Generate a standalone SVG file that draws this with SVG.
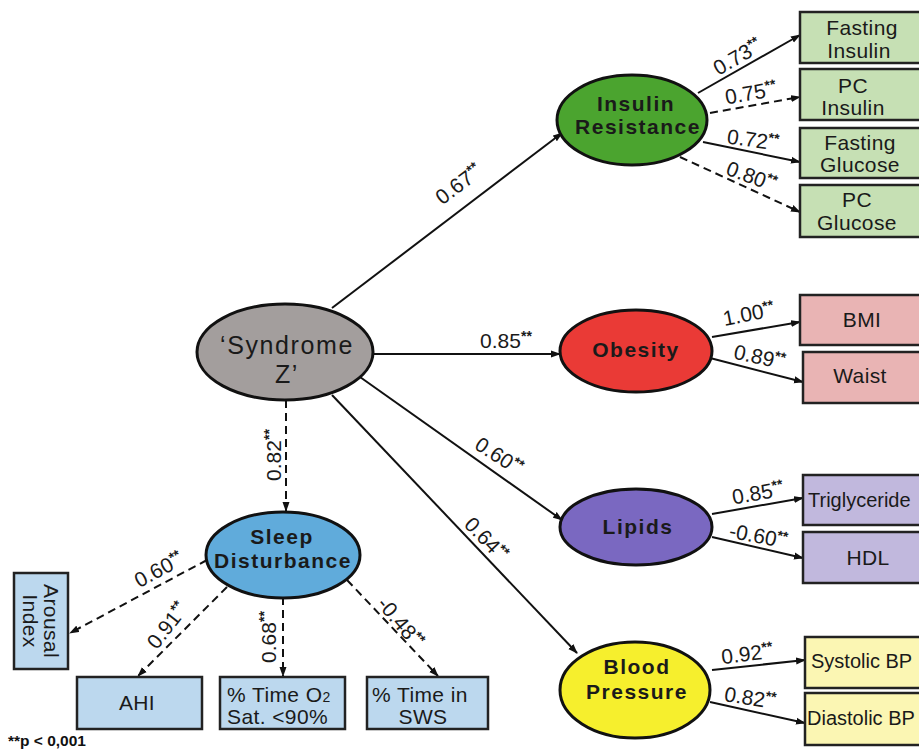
<svg xmlns="http://www.w3.org/2000/svg" width="919" height="749" viewBox="0 0 919 749">
  <defs>
    <marker id="arrow" markerWidth="10" markerHeight="8" refX="9" refY="4" orient="auto" markerUnits="userSpaceOnUse">
      <path d="M0,0.5 L10,4 L0,7.5 Z" fill="#111"/>
    </marker>
    <style>
      .edge { stroke: #111; stroke-width: 2; fill: none; marker-end: url(#arrow); }
      .dash { stroke-dasharray: 8 5; }
      .latent { stroke: #111; stroke-width: 3; }
      .box { stroke: #222; stroke-width: 2.5; }
      text { font-family: "Liberation Sans", Arial, sans-serif; fill: #1a1a1a; }
      .lt { font-weight: bold; font-size: 21px; letter-spacing: 1.5px; text-anchor: middle; }
      .sz { font-size: 25px; letter-spacing: 1.6px; text-anchor: middle; }
      .bt { font-size: 21px; letter-spacing: 0.4px; }
      .tight { font-size: 20px; letter-spacing: 0; }
      .mid { text-anchor: middle; }
      .start { text-anchor: start; }
      .lab { font-size: 21px; text-anchor: middle; }
      .sup { font-size: 14px; font-weight: bold; }
      .note { font-weight: bold; font-size: 15.5px; fill: #111; }
    </style>
  </defs>
  <rect width="919" height="749" fill="#ffffff"/>

  <!-- connectors -->
  <g id="connectors">
    <line class="edge" x1="332" y1="308" x2="562" y2="133"/>
    <line class="edge" x1="373" y1="354" x2="560" y2="354"/>
    <line class="edge" x1="360" y1="377" x2="562" y2="520"/>
    <line class="edge" x1="332" y1="395" x2="577" y2="653"/>
    <line class="edge dash" x1="286" y1="400" x2="286" y2="511"/>

    <line class="edge" x1="698" y1="93" x2="800" y2="35"/>
    <line class="edge dash" x1="710" y1="113" x2="800" y2="97"/>
    <line class="edge" x1="703" y1="142" x2="800" y2="162"/>
    <line class="edge dash" x1="680" y1="157" x2="800" y2="212"/>

    <line class="edge" x1="712" y1="337" x2="800" y2="322"/>
    <line class="edge" x1="710" y1="358" x2="803" y2="382"/>

    <line class="edge" x1="712" y1="514" x2="803" y2="498"/>
    <line class="edge" x1="712" y1="537" x2="803" y2="558"/>

    <line class="edge" x1="712" y1="670" x2="805" y2="660"/>
    <line class="edge" x1="710" y1="702" x2="805" y2="723"/>

    <line class="edge dash" x1="207" y1="560" x2="70" y2="633"/>
    <line class="edge dash" x1="227" y1="587" x2="138" y2="676"/>
    <line class="edge dash" x1="283" y1="597" x2="283" y2="676"/>
    <line class="edge dash" x1="347" y1="580" x2="438" y2="676"/>

    <!-- path coefficients -->
    <text class="lab" transform="translate(463,190) rotate(-37)">0.67<tspan class="sup" dy="-7">**</tspan></text>
    <text class="lab" transform="translate(506,348)">0.85<tspan class="sup" dy="-7">**</tspan></text>
    <text class="lab" transform="translate(495,462) rotate(33)">0.60<tspan class="sup" dy="-7">**</tspan></text>
    <text class="lab" transform="translate(481,544) rotate(46)">0.64<tspan class="sup" dy="-7">**</tspan></text>
    <text class="lab" transform="translate(281,455) rotate(-90)">0.82<tspan class="sup" dy="-7">**</tspan></text>

    <text class="lab" transform="translate(741,63) rotate(-30)">0.73<tspan class="sup" dy="-7">**</tspan></text>
    <text class="lab" transform="translate(752,100) rotate(-10)">0.75<tspan class="sup" dy="-7">**</tspan></text>
    <text class="lab" transform="translate(752,147) rotate(8)">0.72<tspan class="sup" dy="-7">**</tspan></text>
    <text class="lab" transform="translate(749,183) rotate(20)">0.80<tspan class="sup" dy="-7">**</tspan></text>

    <text class="lab" transform="translate(750,321) rotate(-11)">1.00<tspan class="sup" dy="-7">**</tspan></text>
    <text class="lab" transform="translate(758,364) rotate(12)">0.89<tspan class="sup" dy="-7">**</tspan></text>

    <text class="lab" transform="translate(759,500) rotate(-10)">0.85<tspan class="sup" dy="-7">**</tspan></text>
    <text class="lab" transform="translate(757,543) rotate(11)">-0.60<tspan class="sup" dy="-7">**</tspan></text>

    <text class="lab" transform="translate(748,661) rotate(-7)">0.92<tspan class="sup" dy="-7">**</tspan></text>
    <text class="lab" transform="translate(749,705) rotate(9)">0.82<tspan class="sup" dy="-7">**</tspan></text>

    <text class="lab" transform="translate(162,576) rotate(-28)">0.60<tspan class="sup" dy="-7">**</tspan></text>
    <text class="lab" transform="translate(173,630) rotate(-52)">0.91<tspan class="sup" dy="-7">**</tspan></text>
    <text class="lab" transform="translate(276,637) rotate(-90)">0.68<tspan class="sup" dy="-7">**</tspan></text>
    <text class="lab" transform="translate(395,627) rotate(50)">-0.48<tspan class="sup" dy="-7">**</tspan></text>
  </g>

  <!-- latent constructs -->
  <g id="syndrome-z">
    <ellipse class="latent" cx="285" cy="352" rx="88" ry="48" fill="#a39e9d"/>
    <text class="sz" x="287" y="354">‘Syndrome</text>
    <text class="sz" x="287" y="383">Z’</text>
  </g>
  <g id="insulin-resistance">
    <ellipse class="latent" cx="632" cy="120" rx="75" ry="45" fill="#4ba42f"/>
    <text class="lt" x="636" y="111">Insulin</text>
    <text class="lt" x="638" y="134">Resistance</text>
  </g>
  <g id="obesity">
    <ellipse class="latent" cx="636" cy="351" rx="76" ry="41" fill="#ea3a36"/>
    <text class="lt" x="636" y="357">Obesity</text>
  </g>
  <g id="lipids">
    <ellipse class="latent" cx="636" cy="527" rx="76" ry="38" fill="#7a68c1"/>
    <text class="lt" x="638" y="534">Lipids</text>
  </g>
  <g id="blood-pressure">
    <ellipse class="latent" cx="635" cy="690" rx="75" ry="48" fill="#f6ef2d"/>
    <text class="lt" x="637" y="674">Blood</text>
    <text class="lt" x="637" y="699">Pressure</text>
  </g>
  <g id="sleep-disturbance">
    <ellipse class="latent" cx="283" cy="555" rx="77" ry="43" fill="#60abdb"/>
    <text class="lt" x="282" y="544">Sleep</text>
    <text class="lt" x="283" y="568">Disturbance</text>
  </g>

  <!-- observed indicators: insulin resistance -->
  <g id="fasting-insulin">
    <rect class="box" x="800" y="12" width="140" height="51" fill="#c6e0b4"/>
    <text class="bt mid" x="862" y="35">Fasting</text>
    <text class="bt mid" x="859" y="58">Insulin</text>
  </g>
  <g id="pc-insulin">
    <rect class="box" x="800" y="69" width="140" height="51" fill="#c6e0b4"/>
    <text class="bt mid" x="853" y="93">PC</text>
    <text class="bt mid" x="853" y="115">Insulin</text>
  </g>
  <g id="fasting-glucose">
    <rect class="box" x="800" y="128" width="140" height="50" fill="#c6e0b4"/>
    <text class="bt mid" x="860" y="150">Fasting</text>
    <text class="bt mid" x="860" y="172">Glucose</text>
  </g>
  <g id="pc-glucose">
    <rect class="box" x="800" y="185" width="140" height="52" fill="#c6e0b4"/>
    <text class="bt mid" x="857" y="207">PC</text>
    <text class="bt mid" x="857" y="230">Glucose</text>
  </g>

  <!-- observed indicators: obesity -->
  <g id="bmi">
    <rect class="box" x="800" y="295" width="140" height="50" fill="#e9b4b4"/>
    <text class="bt mid" x="862" y="327">BMI</text>
  </g>
  <g id="waist">
    <rect class="box" x="803" y="352" width="140" height="51" fill="#e9b4b4"/>
    <text class="bt mid" x="860" y="383">Waist</text>
  </g>

  <!-- observed indicators: lipids -->
  <g id="triglycerides">
    <rect class="box" x="803" y="475" width="140" height="50" fill="#c1b8dd"/>
    <text class="bt tight start" x="808" y="507">Triglyceride</text>
  </g>
  <g id="hdl">
    <rect class="box" x="803" y="532" width="140" height="51" fill="#c1b8dd"/>
    <text class="bt mid" x="868" y="565">HDL</text>
  </g>

  <!-- observed indicators: blood pressure -->
  <g id="systolic-bp">
    <rect class="box" x="805" y="637" width="140" height="51" fill="#fbf6b3"/>
    <text class="bt tight start" x="811" y="668">Systolic BP</text>
  </g>
  <g id="diastolic-bp">
    <rect class="box" x="805" y="693" width="140" height="52" fill="#fbf6b3"/>
    <text class="bt tight start" x="807" y="725">Diastolic BP</text>
  </g>

  <!-- observed indicators: sleep disturbance -->
  <g id="arousal-index">
    <rect class="box" x="14" y="573" width="54" height="96" fill="#bcd8ee"/>
    <text class="bt mid" transform="translate(44,621) rotate(90)">Arousal</text>
    <text class="bt mid" transform="translate(23,621) rotate(90)">Index</text>
  </g>
  <g id="ahi">
    <rect class="box" x="77" y="677" width="125" height="52" fill="#bcd8ee"/>
    <text class="bt mid" x="137" y="710">AHI</text>
  </g>
  <g id="time-o2-sat">
    <rect class="box" x="220" y="677" width="125" height="52" fill="#bcd8ee"/>
    <text class="bt start" x="227" y="702">% Time O<tspan style="font-size:14px">2</tspan></text>
    <text class="bt start" x="227" y="724">Sat. &lt;90%</text>
  </g>
  <g id="time-sws">
    <rect class="box" x="367" y="677" width="121" height="52" fill="#bcd8ee"/>
    <text class="bt start" x="372" y="702">% Time in</text>
    <text class="bt mid" x="423" y="724">SWS</text>
  </g>

  <text class="note" x="8" y="746">**p &lt; 0,001</text>
</svg>
